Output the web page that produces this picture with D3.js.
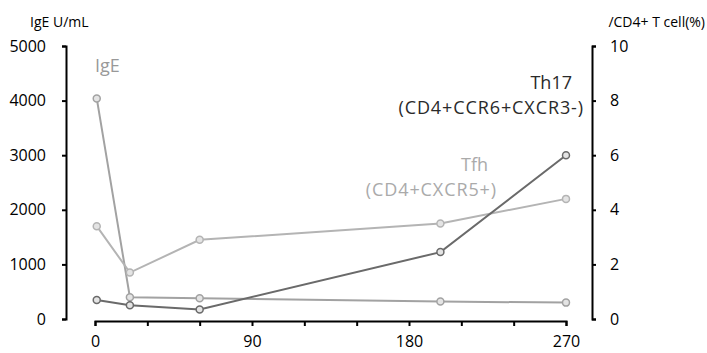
<!DOCTYPE html>
<html><head>
<meta charset="utf-8">
<script src="https://d3js.org/d3.v7.min.js"></script>
<style>
  body { margin: 0; background: #fff; }
  svg text { font-family: "Open Sans", "Noto Sans", sans-serif; }
  .axis path, .axis line { stroke: #000; stroke-width: 2; }
  .axis text { font-size: 16px; fill: #000; }
</style>
</head>
<body>
<svg id="chart" width="707" height="353"></svg>
<script>
  // days after start
  const days = [1, 20, 60, 198, 270];
  // IgE, left axis (U/mL)
  const ige = [4040, 400, 380, 320, 300];
  // right axis, % of CD4+ T cells
  const tfh = [3.4, 1.7, 2.9, 3.5, 4.4];
  const th17 = [0.7, 0.5, 0.35, 2.45, 6.0];

  const xTicks = [0, 30, 60, 90, 120, 150, 180, 210, 240, 270];
  const xLabels = [0, 90, 180, 270];
  const leftTicks = [0, 1000, 2000, 3000, 4000, 5000];
  const rightTicks = [0, 2, 4, 6, 8, 10];

  let svg = d3.select("#chart");

  const x = d3.scaleLinear().domain([0, 270]).range([95, 566]);
  const yL = d3.scaleLinear().domain([0, 5000]).range([319, 46]);
  const yR = d3.scaleLinear().domain([0, 10]).range([319, 46]);

  // axes
  svg.append("g").attr("class", "axis")
     .attr("transform", "translate(0,321)")
     .call(d3.axisBottom(x).tickValues(xTicks).tickSize(5).tickSizeOuter(5).tickPadding(10)
            .tickFormat(d => xLabels.includes(d) ? d : ""));

  svg.append("g").attr("class", "axis")
     .attr("transform", "translate(66,0)")
     .call(d3.axisLeft(yL).tickValues(leftTicks).tickFormat(d3.format("d"))
            .tickSize(4).tickSizeOuter(4).tickPadding(16));

  svg.append("g").attr("class", "axis")
     .attr("transform", "translate(592,0)")
     .call(d3.axisRight(yR).tickValues(rightTicks).tickSize(4).tickSizeOuter(4).tickPadding(14));

  svg.selectAll(".axis path.domain").attr("fill", "none");

  // axis titles
  svg.append("text").attr("x", 30).attr("y", 27).style("font-size", "14px").text("IgE U/mL");
  svg.append("text").attr("x", 705).attr("y", 27).attr("text-anchor", "end")
     .style("font-size", "14px").text("/CD4+ T cell(%)");

  // series
  const series = [
    { vals: ige, scale: yL, color: "#a2a2a2" },
    { vals: tfh, scale: yR, color: "#b4b4b4" },
    { vals: th17, scale: yR, color: "#6a6a6a" }
  ];

  series.forEach(s => {
    const pts = days.map((d, i) => [x(d), s.scale(s.vals[i])]);
    svg.append("path")
       .attr("d", d3.line()(pts))
       .attr("fill", "none")
       .attr("stroke", s.color)
       .attr("stroke-width", 2);
    svg.append("g").selectAll("circle").data(pts)
       .join("circle")
       .attr("cx", d => d[0]).attr("cy", d => d[1])
       .attr("r", 3.5)
       .attr("fill", "#e4e4e4")
       .attr("stroke", s.color)
       .attr("stroke-width", 1.5);
  });

  // series labels
  svg.append("text").attr("x", 95).attr("y", 72).style("font-size", "18px").attr("fill", "#999").text("IgE");
  svg.append("text").attr("x", 572).attr("y", 89).attr("text-anchor", "end")
     .style("font-size", "18px").attr("fill", "#2a2a2a").text("Th17");
  svg.append("text").attr("x", 584).attr("y", 114).attr("text-anchor", "end")
     .style("font-size", "18px").attr("letter-spacing", "0.9px").attr("fill", "#2a2a2a").text("(CD4+CCR6+CXCR3-)");
  svg.append("text").attr("x", 488).attr("y", 171).attr("text-anchor", "end")
     .style("font-size", "18px").attr("fill", "#aaa").text("Tfh");
  svg.append("text").attr("x", 497).attr("y", 196).attr("text-anchor", "end")
     .style("font-size", "18px").attr("letter-spacing", "0.9px").attr("fill", "#aaa").text("(CD4+CXCR5+)");
</script>
</body>
</html>
